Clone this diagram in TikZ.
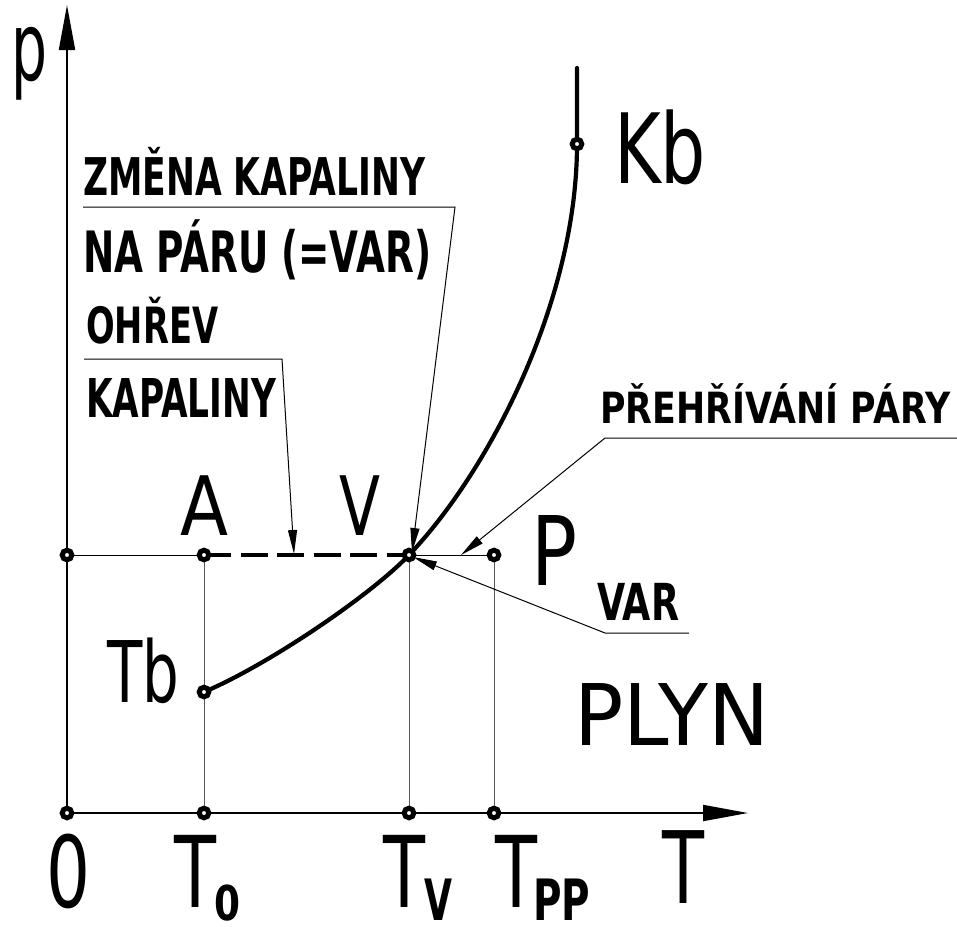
\documentclass[tikz,border=0pt]{standalone}
\usepackage{fontspec}
\setmainfont{DejaVu Sans}
\usetikzlibrary{arrows.meta}
\newcommand\lbl[3]{\resizebox{#2pt}{\height}{\fontsize{#1pt}{#1pt}\selectfont #3}}
\newcommand\blbl[3]{\resizebox{#2pt}{\height}{\fontsize{#1pt}{#1pt}\selectfont\bfseries #3}}
\begin{document}
\begin{tikzpicture}[x=1pt,y=-1pt,
  txt/.style={inner sep=0pt, anchor=base west},
  axisln/.style={line width=2pt, -{Triangle[length=45pt,width=16pt]}},
  grayln/.style={line width=1pt, black!65},
  thinln/.style={line width=1pt, black},
  curveln/.style={line width=4.2pt, line cap=round, line join=round},
  leader/.style={line width=1pt, -{Triangle[length=24pt,width=9pt]}},
  dot/.style={line width=5pt, draw=black, fill=white}]
\useasboundingbox (0,0) rectangle (957,926);
% points
\coordinate (O) at (67,813);
\coordinate (pT0) at (204,813);
\coordinate (pTV) at (409,813);
\coordinate (pTPP) at (494,813);
\coordinate (pY) at (67,555);
\coordinate (A) at (204,555);
\coordinate (V) at (409,555);
\coordinate (Pp) at (494,555);
\coordinate (Tb) at (204,692);
\coordinate (Kb) at (577,144);
\coordinate (Ktop) at (577,68);
\coordinate (ytip) at (67,5);
\coordinate (xtip) at (748,813);
% axes
\draw[axisln] (O) -- (ytip);
\draw[axisln] (O) -- (xtip);
% guide lines
\draw[grayln] (A) -- (pT0);
\draw[grayln] (V) -- (pTV);
\draw[grayln] (Pp) -- (pTPP);
\draw[thinln] (pY) -- (A);
\draw[thinln] (V) -- (Pp);
\draw[line width=4pt, dash pattern=on 27pt off 9.5pt] (A) -- (V);
% curve
\draw[curveln] (Tb) .. controls (270,664) and (372,594) .. (V)
  .. controls (490,470) and (577,300) .. (Kb) -- (Ktop);
% leaders
\coordinate (zA) at (83,207); \coordinate (zB) at (455,207); \coordinate (zT) at (412,552);
\draw[leader] (zA) -- (zB) -- (zT);
\coordinate (oA) at (84,359); \coordinate (oB) at (282,359); \coordinate (oT) at (294,554);
\draw[leader] (oA) -- (oB) -- (oT);
\coordinate (hA) at (957,438); \coordinate (hB) at (605,438); \coordinate (hT) at (461,555);
\draw[leader] (hA) -- (hB) -- (hT);
\coordinate (vA) at (689,633); \coordinate (vB) at (605,633); \coordinate (vT) at (413,557);
\draw[leader] (vA) -- (vB) -- (vT);
% dots
\foreach \c in {O,pT0,pTV,pTPP,pY,A,V,Pp,Tb,Kb}
  \draw[dot] (\c) circle (4.8pt);
% labels
\node[txt] (tp) at (11,80) {\lbl{95}{36}{p}};
\node[txt] (tzm) at (83,195) {\blbl{52}{342}{ZMĚNA KAPALINY}};
\node[txt] (tna) at (83,272) {\blbl{57}{348}{NA PÁRU (=VAR)}};
\node[txt] (toh) at (86,343) {\blbl{50}{132}{OHŘEV}};
\node[txt] (tka) at (86,417) {\blbl{53.5}{190}{KAPALINY}};
\node[txt] (tpr) at (600,423) {\blbl{43}{350}{PŘEHŘÍVÁNÍ PÁRY}};
\node[txt] (tA) at (180,535) {\lbl{82}{48}{A}};
\node[txt] (tV) at (339,535) {\lbl{82}{41}{V}};
\node[txt] (tP) at (531,585) {\lbl{96}{46}{P}};
\node[txt] (tvar) at (597,620) {\blbl{51}{82}{VAR}};
\node[txt] (tKb) at (614,183) {\lbl{97}{92}{Kb}};
\node[txt] (tTb) at (107,702) {\lbl{85}{72}{Tb}};
\node[txt] (tPLYN) at (574,745) {\lbl{85}{195}{PLYN}};
\node[txt] (tO) at (46,907) {\lbl{99}{44}{0}};
\node[txt] (tT0) at (174,907) {\lbl{99}{42}{T}};
\node[txt] (tT0s) at (214,920) {\blbl{48}{26}{0}};
\node[txt] (tTV) at (383,907) {\lbl{99}{42}{T}};
\node[txt] (tTVs) at (424,920) {\blbl{57}{28}{V}};
\node[txt] (tTPP) at (495,907) {\lbl{99}{42}{T}};
\node[txt] (tTPPs) at (533,920) {\blbl{57}{57}{PP}};
\node[txt] (tT) at (662,903) {\lbl{100}{42}{T}};
\end{tikzpicture}
\end{document}
